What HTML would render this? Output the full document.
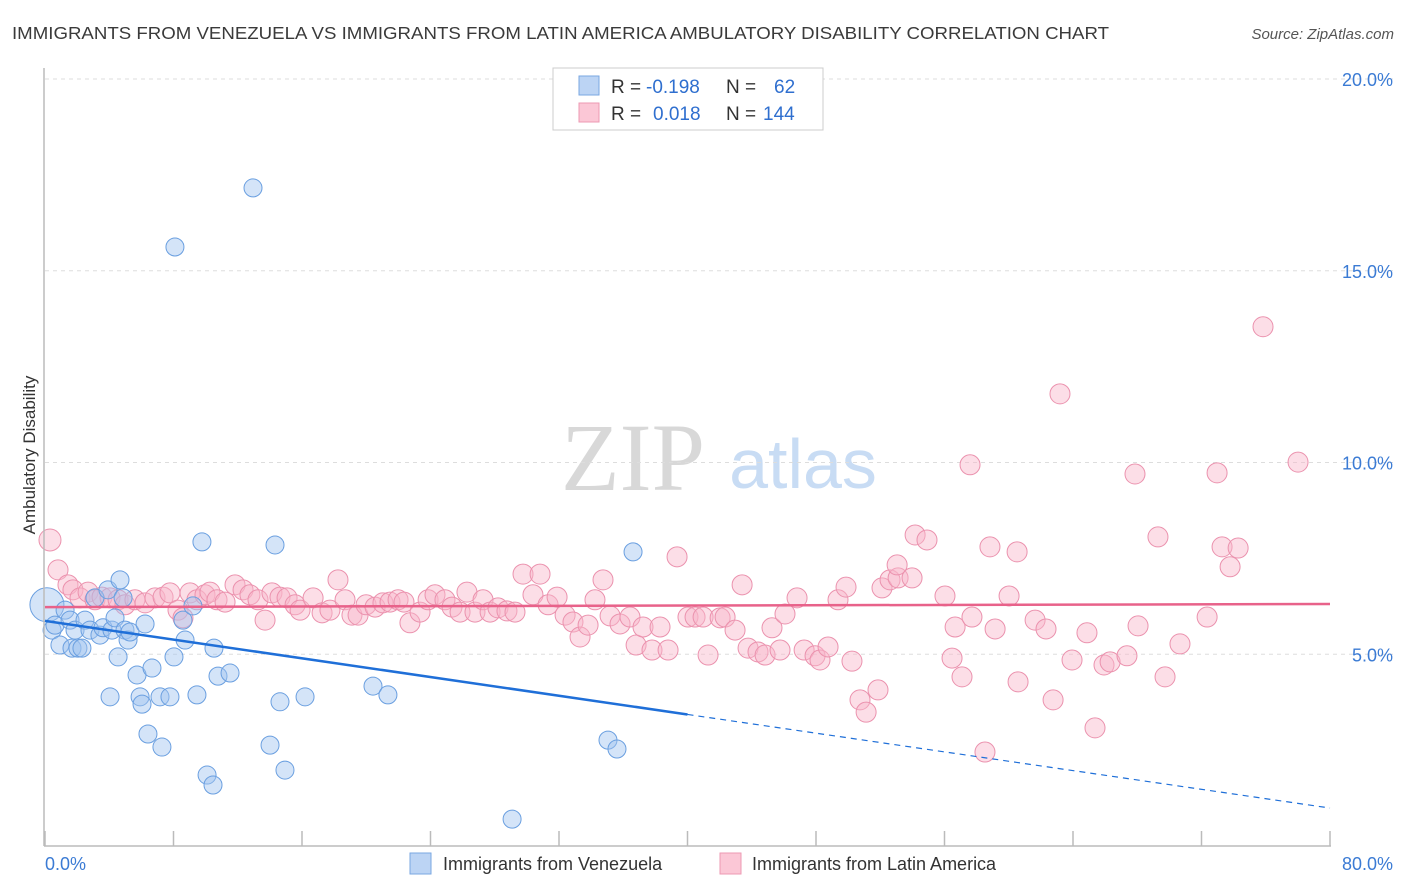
<!DOCTYPE html>
<html><head><meta charset="utf-8"><style>
body{margin:0;background:#fff;font-family:"Liberation Sans",sans-serif;}
#c{position:relative;width:1406px;height:892px;overflow:hidden}
</style></head><body>
<div id="c">
<svg id="s" width="1406" height="892" xmlns="http://www.w3.org/2000/svg">
<text x="12" y="39" font-size="17.5" fill="#3a3a3a" textLength="1097" lengthAdjust="spacingAndGlyphs">IMMIGRANTS FROM VENEZUELA VS IMMIGRANTS FROM LATIN AMERICA AMBULATORY DISABILITY CORRELATION CHART</text>
<text x="1394" y="39" font-size="15" fill="#555" text-anchor="end" font-style="italic">Source: ZipAtlas.com</text>
<text x="35" y="455" font-size="17" fill="#333" text-anchor="middle" transform="rotate(-90 35 455)">Ambulatory Disability</text>
<g>
<text x="633" y="490" font-size="96" fill="#d8d8d8" text-anchor="middle" font-family="Liberation Serif,serif">ZIP</text>
<text x="803" y="488" font-size="70" fill="#c8dcf4" text-anchor="middle">atlas</text>
</g>
<g id="grid"></g><g id="pts"></g><g id="trend"></g>
<line x1="44" y1="68" x2="44" y2="846" stroke="#bbb" stroke-width="1.5"/>
<line x1="44" y1="846" x2="1331" y2="846" stroke="#bbb" stroke-width="1.5"/>
<g id="xt"></g>
<text x="45" y="870" font-size="18" fill="#3b7bd4">0.0%</text>
<text x="1393" y="870" font-size="18" fill="#3b7bd4" text-anchor="end">80.0%</text>
<g>
<rect x="553" y="68" width="270" height="62" fill="#fff" stroke="#ccc"/>
<rect x="579" y="76" width="20" height="19" fill="#bcd4f4" stroke="#7aa7e2"/>
<rect x="579" y="103" width="20" height="19" fill="#fbc7d6" stroke="#ec9ab3"/>
<text y="93" font-size="19" fill="#333"><tspan x="611">R =</tspan><tspan x="646" fill="#2f6fcf">-0.198</tspan><tspan x="726">N =</tspan><tspan x="774" fill="#2f6fcf">62</tspan></text>
<text y="120" font-size="19" fill="#333"><tspan x="611">R =</tspan><tspan x="653" fill="#2f6fcf">0.018</tspan><tspan x="726">N =</tspan><tspan x="763" fill="#2f6fcf">144</tspan></text>
</g>
<g>
<rect x="410" y="853" width="21" height="21" fill="#bcd4f4" stroke="#7aa7e2"/>
<text x="443" y="870" font-size="18" fill="#333">Immigrants from Venezuela</text>
<rect x="720" y="853" width="21" height="21" fill="#fbc7d6" stroke="#ec9ab3"/>
<text x="752" y="870" font-size="18" fill="#333">Immigrants from Latin America</text>
</g>
</svg>
</div>
<script>
const yTicks=[5,10,15,20];
const yTickLabels=["5.0%","10.0%","15.0%","20.0%"];
const xTicks=[0,8,16,24,32,40,48,56,64,72,80];
const blueX=[0.12,0.44,0.62,0.93,1.25,1.56,1.68,1.87,2.05,2.30,2.49,2.80,3.11,3.42,3.61,3.92,4.05,4.17,4.36,4.55,4.67,4.86,4.98,5.17,5.29,5.73,5.92,6.04,6.23,6.41,6.66,7.16,7.28,7.78,8.03,8.09,8.59,8.72,9.21,9.46,9.77,10.09,10.46,10.52,10.77,11.52,12.95,14.01,14.32,14.63,14.94,16.19,20.42,21.35,29.08,35.05,35.61,36.61];
const blueY=[6.29,5.63,5.76,5.24,6.15,5.89,5.16,5.63,5.16,5.16,5.89,5.63,6.47,5.50,5.69,6.68,3.89,5.63,5.95,4.93,6.94,6.47,5.63,5.37,5.58,4.46,3.89,3.70,5.79,2.92,4.64,3.89,2.58,3.89,4.93,15.62,5.89,5.37,6.26,3.94,7.93,1.85,1.59,5.16,4.43,4.51,17.16,2.63,7.85,3.76,1.98,3.89,4.17,3.94,0.70,2.76,2.53,7.67];
const pinkX=[0.31,0.81,1.43,1.74,2.18,2.68,3.11,3.55,4.05,4.55,4.98,5.60,6.23,6.85,7.35,7.78,8.28,8.59,9.03,9.46,9.96,10.27,10.71,11.21,11.83,12.33,12.76,13.26,13.70,14.13,14.63,15.07,15.57,15.88,16.69,17.25,17.74,18.24,18.68,19.11,19.49,19.99,20.55,21.04,21.48,21.98,22.35,22.72,23.35,23.85,24.28,24.90,25.34,25.84,26.27,26.77,27.27,27.71,28.20,28.76,29.26,29.76,30.38,30.82,31.32,31.88,32.38,32.87,33.31,33.81,34.24,34.74,35.18,35.80,36.42,36.80,37.23,37.79,38.29,38.79,39.35,40.03,40.47,40.97,41.28,42.03,42.34,42.96,43.40,43.77,44.39,44.83,45.26,45.76,46.07,46.82,47.26,47.94,48.25,48.75,49.37,49.87,50.24,50.74,51.12,51.86,52.11,52.61,53.11,53.05,53.98,54.17,54.91,56.03,56.47,56.66,57.09,57.59,57.71,58.52,58.83,59.15,60.02,60.52,60.58,61.64,62.32,62.76,63.19,63.94,64.87,65.37,65.93,66.31,67.36,67.86,68.05,69.29,69.73,70.66,72.35,72.97,73.28,73.78,74.28,75.83,78.01];
const pinkY=[7.98,7.20,6.81,6.68,6.47,6.62,6.42,6.49,6.47,6.42,6.29,6.42,6.34,6.47,6.49,6.60,6.15,5.95,6.60,6.42,6.55,6.62,6.42,6.36,6.81,6.68,6.55,6.42,5.89,6.60,6.49,6.47,6.29,6.15,6.47,6.08,6.15,6.94,6.42,6.02,6.02,6.29,6.23,6.34,6.36,6.42,6.36,5.82,6.10,6.42,6.55,6.42,6.23,6.10,6.62,6.10,6.42,6.10,6.21,6.13,6.10,7.09,6.55,7.09,6.29,6.49,6.02,5.84,5.45,5.76,6.42,6.94,6.00,5.79,5.97,5.24,5.71,5.11,5.71,5.11,7.54,5.97,5.97,5.97,4.98,5.95,5.97,5.63,6.81,5.16,5.06,4.98,5.69,5.11,6.05,6.47,5.11,4.96,4.85,5.19,6.42,6.75,4.82,3.81,3.49,4.07,6.73,6.94,6.99,7.33,6.99,8.11,7.98,6.52,4.90,5.71,4.41,9.94,5.97,2.45,7.80,5.66,6.52,7.67,4.28,5.89,5.66,3.81,11.79,4.85,5.56,3.08,4.72,4.80,4.96,9.70,5.74,8.06,4.41,5.27,5.97,9.73,7.80,7.28,7.77,13.54,10.01];
const blueTrend=[5.87,0.99]; // value at x=0 and x=80
const blueSolidEnd=40;
const pinkTrend=[6.23,6.31];
const NS="http://www.w3.org/2000/svg";
function xs(v){return 45+v/80*1285;}
function ys(v){return 846-v*38.35;}
function mk(t,a,p){const e=document.createElementNS(NS,t);for(const k in a)e.setAttribute(k,a[k]);p.appendChild(e);return e;}
const grid=document.getElementById('grid');
yTicks.forEach((t,i)=>{
  const l=mk('line',{x1:45,x2:1393,y1:ys(t),y2:ys(t),stroke:'#ddd','stroke-dasharray':'4 4'},grid);
  
  
  const tx=mk('text',{x:1393,y:ys(t)+7,'font-size':18,fill:'#3b7bd4','text-anchor':'end'},grid);
  tx.textContent=yTickLabels[i];
  
  
});
const xt=document.getElementById('xt');
xTicks.forEach(t=>{
  const l=mk('line',{x1:xs(t),x2:xs(t),y1:831,y2:846,stroke:'#bbb','stroke-width':1.5},xt);
  
  
});
const pts=document.getElementById('pts');
pinkX.forEach((x,i)=>{
  const c=mk('circle',{cx:xs(x),cy:ys(pinkY[i]),r:i==0?11:10,fill:'rgba(248,182,202,0.45)',stroke:'#eb92ae','stroke-width':1},pts);
  
  
});
blueX.forEach((x,i)=>{
  const c=mk('circle',{cx:xs(x),cy:ys(blueY[i]),r:i==0?17:9,fill:'rgba(160,196,240,0.45)',stroke:'#6a9fe0','stroke-width':1},pts);
  
  
});
const tr=document.getElementById('trend');
const bAt=v=>blueTrend[0]+(blueTrend[1]-blueTrend[0])*v/80;
let l1=mk('line',{x1:xs(0),y1:ys(bAt(0)),x2:xs(blueSolidEnd),y2:ys(bAt(blueSolidEnd)),stroke:'#1f6fd8','stroke-width':2.5},tr);


let l2=mk('line',{x1:xs(blueSolidEnd),y1:ys(bAt(blueSolidEnd)),x2:xs(80),y2:ys(bAt(80)),stroke:'#1f6fd8','stroke-width':1.2,'stroke-dasharray':'6 5'},tr);


let l3=mk('line',{x1:xs(0),y1:ys(pinkTrend[0]),x2:xs(80),y2:ys(pinkTrend[1]),stroke:'#e8628a','stroke-width':2.5},tr);


</script>
</body></html>
